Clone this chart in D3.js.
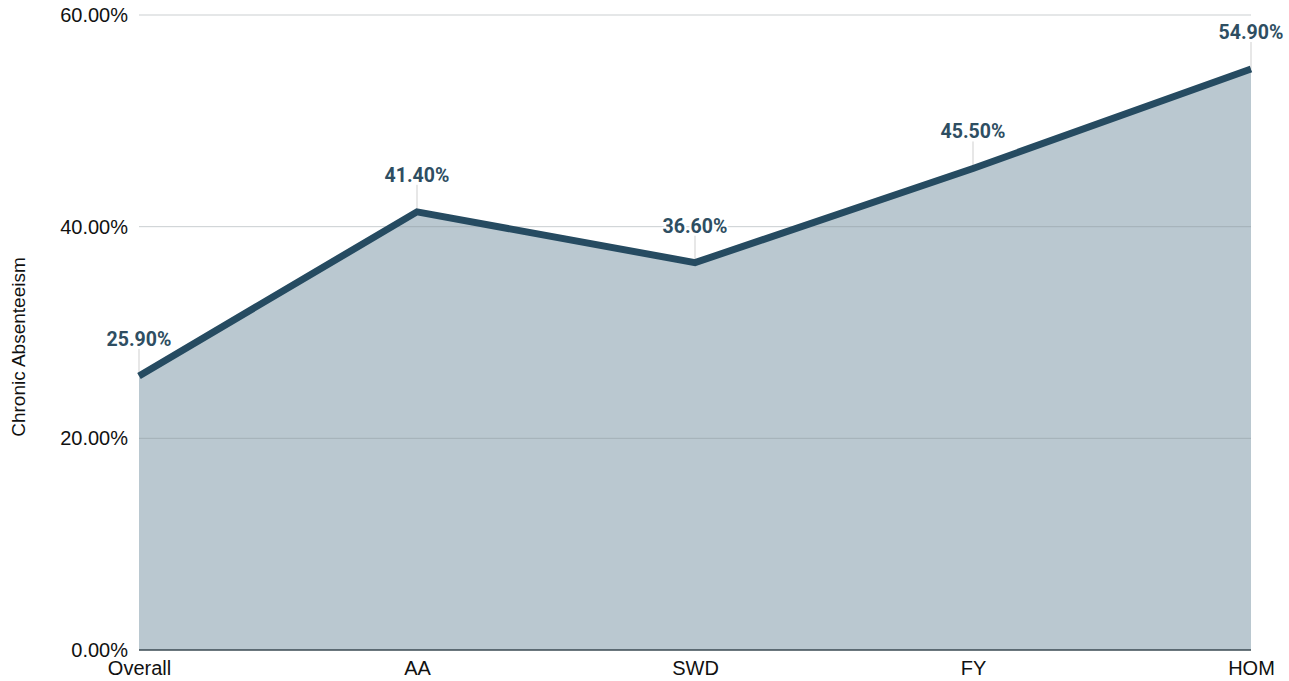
<!DOCTYPE html>
<html><head><meta charset="utf-8">
<script src="https://cdn.jsdelivr.net/npm/d3@7"></script>
<style>body{margin:0;background:#fff}svg{display:block}</style>
</head><body>
<svg id="c" width="1289" height="681"></svg>
<script>
const categories = ["Overall","AA","SWD","FY","HOM"];
const values = [25.9, 41.4, 36.6, 45.5, 54.9];
const yTicks = [0, 20, 40, 60];
const yTitle = "Chronic Absenteeism";

const svg = d3.select("#c");
const W = 1289, H = 681;
const m = {l:139, r:W-1251, t:15, b:H-650};
const x = d3.scalePoint().domain(categories).range([m.l, W-m.r]);
const y = d3.scaleLinear().domain([0,60]).range([H-m.b, m.t]);
const fmt = v => v.toFixed(2) + "%";
const data = categories.map((c,i)=>({c, v: values[i]}));

// area
svg.append("path").datum(data)
  .attr("d", d3.area().x(d=>x(d.c)).y0(y(0)).y1(d=>y(d.v)))
  .attr("fill", "#bac8d0");

// grid
svg.append("g").selectAll("line").data(yTicks.filter(t=>t>0)).join("line")
  .attr("x1", m.l).attr("x2", W-m.r).attr("y1", d=>y(d)).attr("y2", d=>y(d))
  .attr("stroke", "#8a9498").attr("stroke-opacity", 0.45).attr("stroke-width", 1);

// y axis labels
const ya = svg.append("g").attr("transform", `translate(${m.l},0)`)
  .call(d3.axisLeft(y).tickValues(yTicks).tickFormat(fmt).tickSize(0).tickPadding(11));
ya.select(".domain").remove();
ya.selectAll("text").attr("font-family", "Liberation Sans, Arial, sans-serif").attr("font-size", 20).attr("fill", "#111");

// x axis labels
const xa = svg.append("g").attr("transform", `translate(0,${H-m.b})`)
  .call(d3.axisBottom(x).tickSize(0).tickPadding(11));
xa.select(".domain").remove();
xa.selectAll("text").attr("font-family", "Liberation Sans, Arial, sans-serif").attr("font-size", 20).attr("fill", "#111");

// baseline
svg.append("line").attr("x1", m.l).attr("x2", W-m.r).attr("y1", y(0)).attr("y2", y(0))
  .attr("stroke", "#3a4a52").attr("stroke-width", 1.5);

// leader lines
svg.append("g").selectAll("line").data(data).join("line")
  .attr("x1", d=>x(d.c)).attr("x2", d=>x(d.c))
  .attr("y1", d=>y(d.v)-27).attr("y2", d=>y(d.v))
  .attr("stroke", "#cfcfcf").attr("stroke-width", 1);

// line
svg.append("path").datum(data)
  .attr("d", d3.line().x(d=>x(d.c)).y(d=>y(d.v)))
  .attr("fill", "none").attr("stroke", "#264b61").attr("stroke-width", 7).attr("stroke-linejoin", "miter");

// data labels
svg.append("g").selectAll("text").data(data).join("text")
  .attr("x", d=>x(d.c))
  .attr("y", d=>y(d.v)-30)
  .attr("text-anchor", "middle")
  .attr("font-family", "Roboto, sans-serif").attr("font-weight", 700).attr("font-size", 19.5)
  .attr("fill", "#2e4e62")
  .attr("stroke", "#fff").attr("stroke-width", 4).attr("paint-order", "stroke").attr("stroke-linejoin", "round")
  .text(d=>fmt(d.v));

// y title
svg.append("text").attr("transform", `translate(25,${347}) rotate(-90)`)
  .attr("text-anchor", "middle").attr("font-family", "Liberation Sans, Arial, sans-serif")
  .attr("font-size", 19).attr("fill", "#111").text(yTitle);
</script>
</body></html>
